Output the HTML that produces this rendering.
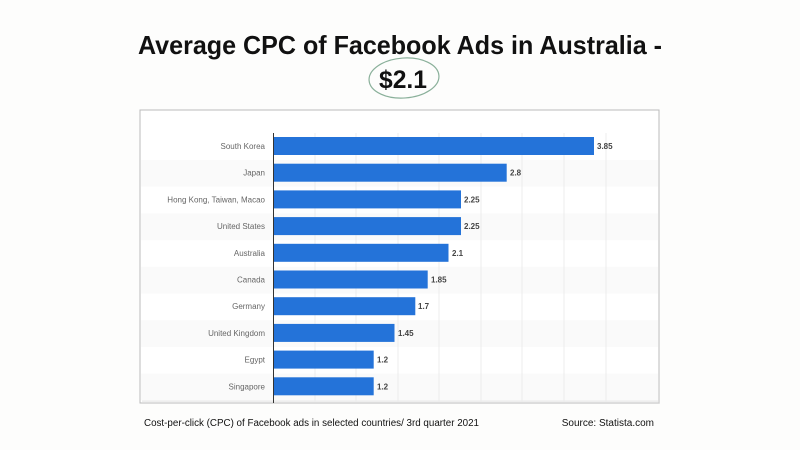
<!DOCTYPE html>
<html><head><meta charset="utf-8"><style>
html,body{margin:0;padding:0;background:#fdfdfc;}
svg{display:block;font-family:"Liberation Sans",sans-serif;}
</style></head><body>
<svg width="800" height="450" viewBox="0 0 800 450">
<rect width="800" height="450" fill="#fdfdfc"/>
<text x="400" y="54" text-anchor="middle" font-size="26" font-weight="bold" fill="#111" textLength="524" lengthAdjust="spacingAndGlyphs">Average CPC of Facebook Ads in Australia -</text>
<ellipse cx="404" cy="78" rx="35" ry="20" fill="none" stroke="#8ab09a" stroke-width="1.2" transform="rotate(-4 404 78)"/>
<text x="403" y="88" text-anchor="middle" font-size="25" font-weight="bold" fill="#111" textLength="48" lengthAdjust="spacingAndGlyphs">$2.1</text>
<rect x="140" y="110" width="519" height="293" fill="#fff" stroke="#bbb" stroke-width="1"/>
<rect x="142" y="400" width="518" height="4" fill="#ddd" opacity="0.5"/>
<g fill="#fafafa">
<rect x="141" y="160" width="517" height="26.7"/>
<rect x="141" y="213.4" width="517" height="26.7"/>
<rect x="141" y="266.8" width="517" height="26.7"/>
<rect x="141" y="320.2" width="517" height="26.7"/>
<rect x="141" y="373.6" width="517" height="26.7"/>
</g>
<g stroke="#ececec" stroke-width="1">
<line x1="315" y1="133" x2="315" y2="402"/><line x1="356" y1="133" x2="356" y2="402"/>
<line x1="398" y1="133" x2="398" y2="402"/><line x1="439" y1="133" x2="439" y2="402"/>
<line x1="481" y1="133" x2="481" y2="402"/><line x1="522" y1="133" x2="522" y2="402"/>
<line x1="564" y1="133" x2="564" y2="402"/><line x1="606" y1="133" x2="606" y2="402"/>
</g>
<line x1="273.5" y1="133" x2="273.5" y2="403" stroke="#333" stroke-width="1"/>
<g fill="#2473d9">
<rect x="274" y="137" width="320" height="18"/>
<rect x="274" y="163.7" width="232.7" height="18"/>
<rect x="274" y="190.4" width="187" height="18"/>
<rect x="274" y="217.1" width="187" height="18"/>
<rect x="274" y="243.8" width="174.5" height="18"/>
<rect x="274" y="270.5" width="153.7" height="18"/>
<rect x="274" y="297.2" width="141.3" height="18"/>
<rect x="274" y="323.9" width="120.5" height="18"/>
<rect x="274" y="350.6" width="99.7" height="18"/>
<rect x="274" y="377.3" width="99.7" height="18"/>
</g>
<g font-size="8" fill="#666" text-anchor="end">
<text x="265" y="149">South Korea</text>
<text x="265" y="175.7">Japan</text>
<text x="265" y="202.4">Hong Kong, Taiwan, Macao</text>
<text x="265" y="229.1">United States</text>
<text x="265" y="255.8">Australia</text>
<text x="265" y="282.5">Canada</text>
<text x="265" y="309.2">Germany</text>
<text x="265" y="335.9">United Kingdom</text>
<text x="265" y="362.6">Egypt</text>
<text x="265" y="389.3">Singapore</text>
</g>
<g font-size="8" fill="#444" font-weight="bold">
<text x="597" y="149">3.85</text>
<text x="510" y="175.7">2.8</text>
<text x="464" y="202.4">2.25</text>
<text x="464" y="229.1">2.25</text>
<text x="452" y="255.8">2.1</text>
<text x="431" y="282.5">1.85</text>
<text x="418" y="309.2">1.7</text>
<text x="398" y="335.9">1.45</text>
<text x="377" y="362.6">1.2</text>
<text x="377" y="389.3">1.2</text>
</g>
<text x="144" y="426" font-size="10" fill="#111" textLength="335" lengthAdjust="spacingAndGlyphs">Cost-per-click (CPC) of Facebook ads in selected countries/ 3rd quarter 2021</text>
<text x="654" y="426" font-size="10" fill="#111" text-anchor="end">Source: Statista.com</text>
</svg>
</body></html>
